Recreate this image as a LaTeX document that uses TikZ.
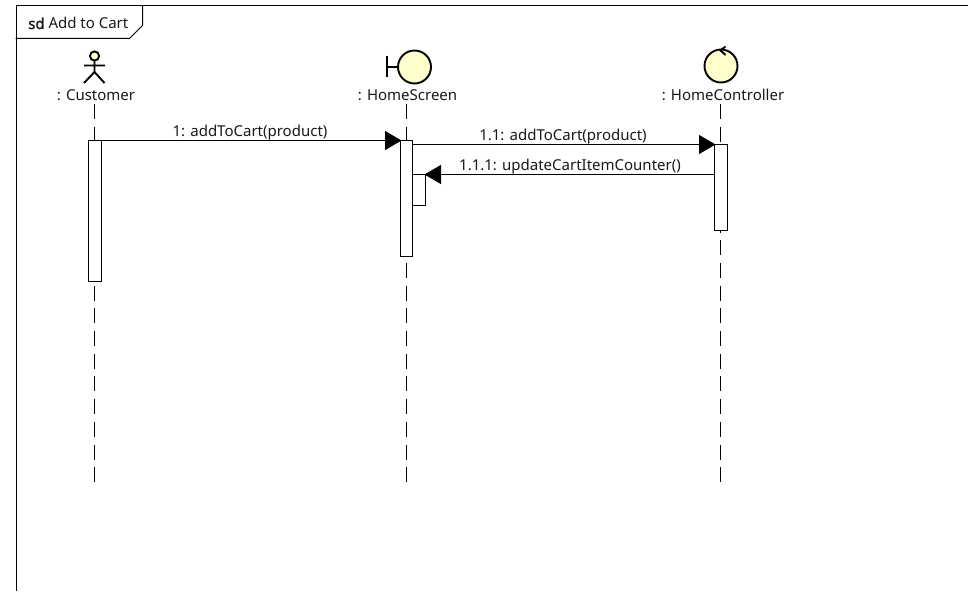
\documentclass[tikz,border=0pt]{standalone}
\usepackage{fontspec}
\setmainfont{Noto Sans}
\newfontface\sdface{Noto Sans}[FakeBold=1.3]
\usetikzlibrary{arrows.meta}
\definecolor{umlfill}{HTML}{FFFFCC}
\tikzset{
  x=1pt,y=-1pt,
  ln/.style={line width=1pt,black},
  lifeline/.style={line width=1pt,black,dash pattern=on 15pt off 7.7pt},
  act/.style={draw=black,line width=1pt,fill=white,rectangle,inner sep=0pt,outer sep=0pt,anchor=north west},
  msg/.style={line width=1pt,black,-{Triangle[length=16.5pt,width=19pt]},shorten >=-1pt},
  lbl/.style={font=\fontsize{15pt}{18pt}\selectfont,text=black!90,inner sep=0pt},
  sym/.style={draw=black,line width=1.9pt,fill=umlfill},
  stick/.style={draw=black,line width=1.9pt}
}
\begin{document}
\begin{tikzpicture}
\useasboundingbox (0,0) rectangle (968,591);
\fill[white] (0,0) rectangle (968,591);
% frame
\draw[ln] (968,5.5) -- (16.5,5.5) -- (16.5,591);
\draw[ln] (142.5,5.5) -- (142.5,25.5) -- (129.5,38.5) -- (15.5,38.5);
\node[lbl,anchor=base west] (title) at (28,29) {{\sdface sd} Add to Cart};
% lifelines
\coordinate (c0) at (94.5,104);
\coordinate (c1) at (94.5,482);
\coordinate (h0) at (406.5,104);
\coordinate (h1) at (406.5,482);
\coordinate (k0) at (720.5,104);
\coordinate (k1) at (720.5,482);
\draw[lifeline] (c0) -- (c1);
\draw[lifeline] (h0) -- (h1);
\draw[lifeline] (k0) -- (k1);
% actor
\draw[stick,fill=umlfill] (94.5,56) circle[radius=4.6];
\draw[stick] (94.5,60.5) -- (94.5,72) (84,65.5) -- (105,65.5) (84,83) -- (94.5,72) -- (104.5,83);
\node[lbl] (customer) at (96,95) {: Customer};
% boundary
\draw[sym] (414.5,67) circle[radius=16.5];
\draw[stick] (387,56) -- (387,77) (387,67) -- (398,67);
\node[lbl] (homescreen) at (407.5,95) {: HomeScreen};
% control
\draw[sym] (721,66) circle[radius=16.5];
\draw[stick] (725.5,46.5) -- (720.5,50.5) -- (725.5,55);
\node[lbl] (homecontroller) at (723,95) {: HomeController};
% activations
\node[act,minimum width=13pt,minimum height=141pt] (a1) at (88,140.5) {};
\node[act,minimum width=12pt,minimum height=116pt] (a2) at (400.5,140.5) {};
\node[act,minimum width=13pt,minimum height=31pt] (a3) at (412.5,174.5) {};
\node[act,minimum width=12.5pt,minimum height=86pt] (a4) at (714.5,144.5) {};
% messages
\draw[msg] (a1.north east) -- (a2.north west);
\draw[msg] (a2.east |- a4.north) -- (a4.north west);
\draw[msg] (a4.west |- a3.north) -- (a3.north east);
\node[lbl] (m1) at (250,132.5) {1: addToCart(product)};
\node[lbl] (m2) at (563,136.5) {1.1: addToCart(product)};
\node[lbl] (m3) at (570,166.5) {1.1.1: updateCartItemCounter()};
\end{tikzpicture}
\end{document}
